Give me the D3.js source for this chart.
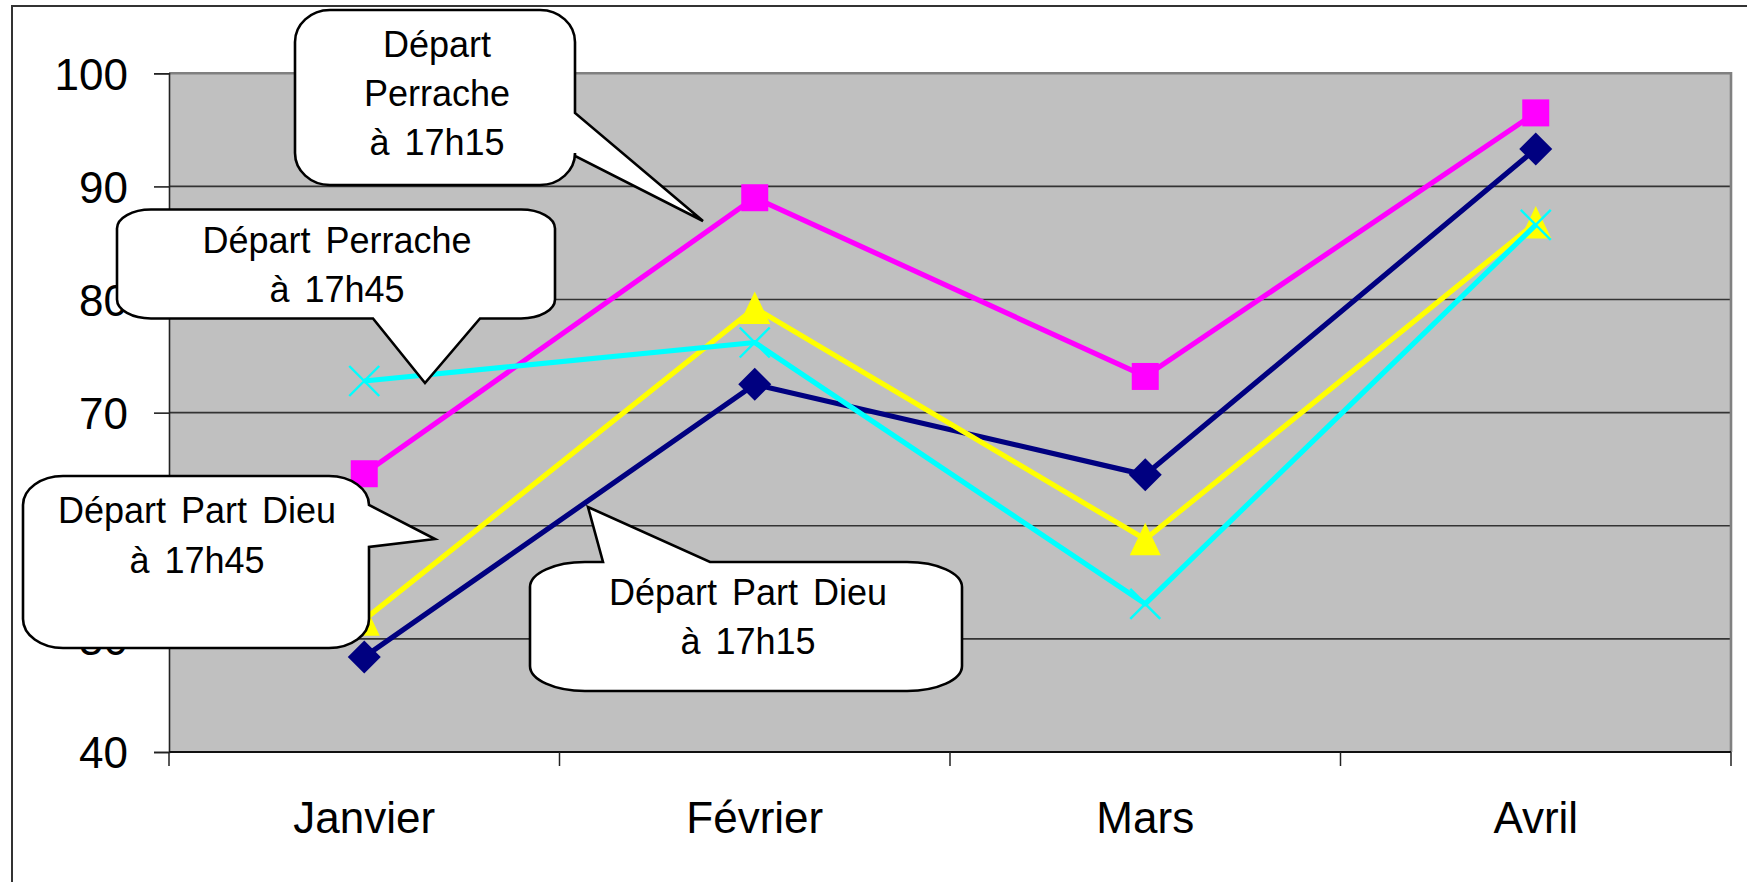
<!DOCTYPE html>
<html>
<head>
<meta charset="utf-8">
<script src="https://cdn.jsdelivr.net/npm/d3@7"></script>
<style>
  html, body { margin: 0; padding: 0; background: #ffffff; }
  svg { display: block; }
  text { font-family: "Liberation Sans", Arial, sans-serif; fill: #000; }
</style>
</head>
<body>
<svg id="chart" width="1747" height="882"></svg>
<script>
// ---------- DATA ----------
const categories = ["Janvier", "Février", "Mars", "Avril"];
const yTicks = [40, 50, 60, 70, 80, 90, 100];
const seriesNames = [
  "Départ Part Dieu à 17h15",
  "Départ Perrache à 17h15",
  "Départ Part Dieu à 17h45",
  "Départ Perrache à 17h45"
];
const partDieu1715 = [48.4, 72.5, 64.5, 93.3];
const perrache1715 = [64.6, 89.0, 73.2, 96.5];
const partDieu1745 = [51.7, 79.25, 58.8, 86.8];
const perrache1745 = [72.8, 76.2, 53.1, 86.6];
const calloutLines = [
  ["Départ", "Perrache", "à 17h15"],
  ["Départ Perrache", "à 17h45"],
  ["Départ Part Dieu", "à 17h45"],
  ["Départ Part Dieu", "à 17h15"]
];

// ---------- STYLE / LAYOUT ----------
const seriesStyle = [
  { color: "#000080", marker: "diamond" },
  { color: "#FF00FF", marker: "square" },
  { color: "#FFFF00", marker: "triangle" },
  { color: "#00FFFF", marker: "x" }
];
const seriesValues = [partDieu1715, perrache1715, partDieu1745, perrache1745];

const plot = { left: 169, right: 1731, top: 73.3, bottom: 752 };
const svg = d3.select("#chart");

// outer chart border (right & bottom edges fall outside the picture)
svg.append("rect").attr("x", 12).attr("y", 6).attr("width", 1800).attr("height", 1000)
  .attr("fill", "#fff").attr("stroke", "#333").attr("stroke-width", 2);

const x = d3.scaleBand().domain(categories).range([plot.left, plot.right]).padding(0);
const y = d3.scaleLinear().domain([40, 100]).range([plot.bottom, plot.top]);
const cx = c => x(c) + x.bandwidth() / 2;

// plot area
svg.append("rect").attr("x", plot.left).attr("y", plot.top)
  .attr("width", plot.right - plot.left).attr("height", plot.bottom - plot.top)
  .attr("fill", "#C0C0C0");

// gridlines
svg.append("g").selectAll("line").data(yTicks.filter(t => t > 40 && t < 100)).join("line")
  .attr("x1", plot.left).attr("x2", plot.right)
  .attr("y1", d => y(d)).attr("y2", d => y(d))
  .attr("stroke", "#333").attr("stroke-width", 1.6);

// plot border top/right (grey)
svg.append("path")
  .attr("d", `M${plot.left},${y(100)}H${plot.right}V${plot.bottom}`)
  .attr("fill", "none").attr("stroke", "#808080").attr("stroke-width", 2.6);

// Y axis
const yAxis = svg.append("g").attr("transform", `translate(${plot.left},0)`)
  .call(d3.axisLeft(y).tickValues(yTicks).tickSize(15).tickPadding(26).tickFormat(d3.format("d")));
yAxis.select(".domain").attr("stroke", "#222").attr("stroke-width", 1.6);
yAxis.selectAll(".tick line").attr("stroke", "#222").attr("stroke-width", 1.6);
yAxis.selectAll(".tick text").attr("font-size", 44).attr("dy", "0.36em")
  .attr("font-family", "Liberation Sans, Arial, sans-serif").attr("fill", "#000");

// X axis
const xAxis = svg.append("g").attr("transform", `translate(0,${plot.bottom})`)
  .call(d3.axisBottom(x).tickSize(0).tickPadding(0));
xAxis.select(".domain").remove();
xAxis.selectAll(".tick text").attr("font-size", 44).attr("y", 81).attr("dy", 0)
  .attr("font-family", "Liberation Sans, Arial, sans-serif").attr("fill", "#000");
svg.append("line").attr("x1", plot.left).attr("x2", plot.right)
  .attr("y1", plot.bottom).attr("y2", plot.bottom)
  .attr("stroke", "#111").attr("stroke-width", 2);
const boundaries = categories.map(c => x(c)).concat([x(categories[categories.length - 1]) + x.bandwidth()]);
svg.append("g").selectAll("line").data(boundaries).join("line")
  .attr("x1", d => d).attr("x2", d => d)
  .attr("y1", plot.bottom).attr("y2", plot.bottom + 14)
  .attr("stroke", "#222").attr("stroke-width", 1.5);

// ---------- SERIES ----------
const line = d3.line().x((d, i) => cx(categories[i])).y(d => y(d));
function markerPath(type) {
  switch (type) {
    case "square": { const h = 13.5; return `M${-h},${-h}H${h}V${h}H${-h}Z`; }
    case "diamond": { const h = 16.5; return `M0,${-h}L${h},0L0,${h}L${-h},0Z`; }
    case "triangle": { return `M0,-16.5L15.5,16L-15.5,16Z`; }
    case "x": { const h = 15; return `M${-h},${-h}L${h},${h}M${-h},${h}L${h},${-h}`; }
  }
}
seriesValues.forEach((vals, si) => {
  const st = seriesStyle[si];
  const g = svg.append("g").attr("class", "series").attr("data-name", seriesNames[si]);
  g.append("path").attr("d", line(vals)).attr("fill", "none")
    .attr("stroke", st.color).attr("stroke-width", 5.2).attr("stroke-linejoin", "round");
  g.selectAll("path.m").data(vals).join("path").attr("class", "m")
    .attr("transform", (d, i) => `translate(${cx(categories[i])},${y(d)})`)
    .attr("d", markerPath(st.marker))
    .attr("fill", st.marker === "x" ? "none" : st.color)
    .attr("stroke", st.color)
    .attr("stroke-width", st.marker === "x" ? 2.4 : 0);
});

// ---------- CALLOUTS (annotations) ----------
const calloutLayout = [
  { L: 295, R: 575, T: 10, B: 185, rx: 35, ry: 32, side: "right", a: 113, b: 156, tip: [703, 221],
    tx: 437, base: [57, 106, 155] },
  { L: 117, R: 555, T: 209.5, B: 318.5, rx: 34, ry: 19, side: "bottom", a: 373, b: 480, tip: [425, 383],
    tx: 337, base: [253, 302] },
  { L: 23, R: 369, T: 476, B: 648, rx: 40, ry: 29, side: "right", a: 505, b: 547, tip: [435, 539],
    tx: 197, base: [523, 573] },
  { L: 530, R: 962, T: 562, B: 691, rx: 55, ry: 25, side: "top", a: 603, b: 710, tip: [588, 507],
    tx: 748, base: [605, 654] }
];
function calloutPath(c) {
  const { L, R, T, B, rx, ry, side, a, b, tip } = c;
  let p = `M${L + rx},${T}`;
  if (side === "top") p += `L${a},${T}L${tip[0]},${tip[1]}L${b},${T}`;
  p += `L${R - rx},${T}A${rx},${ry} 0 0 1 ${R},${T + ry}`;
  if (side === "right") p += `L${R},${a}L${tip[0]},${tip[1]}L${R},${b}`;
  p += `L${R},${B - ry}A${rx},${ry} 0 0 1 ${R - rx},${B}`;
  if (side === "bottom") p += `L${b},${B}L${tip[0]},${tip[1]}L${a},${B}`;
  p += `L${L + rx},${B}A${rx},${ry} 0 0 1 ${L},${B - ry}`;
  p += `L${L},${T + ry}A${rx},${ry} 0 0 1 ${L + rx},${T}Z`;
  return p;
}
calloutLayout.forEach((c, i) => {
  const g = svg.append("g").attr("class", "callout");
  g.append("path").attr("d", calloutPath(c)).attr("fill", "#fff")
    .attr("stroke", "#000").attr("stroke-width", 2.6).attr("stroke-linejoin", "miter");
  calloutLines[i].forEach((t, k) => {
    g.append("text").attr("x", c.tx).attr("y", c.base[k])
      .attr("text-anchor", "middle").attr("font-size", 36)
      .attr("word-spacing", 5).text(t);
  });
});
</script>
</body>
</html>
